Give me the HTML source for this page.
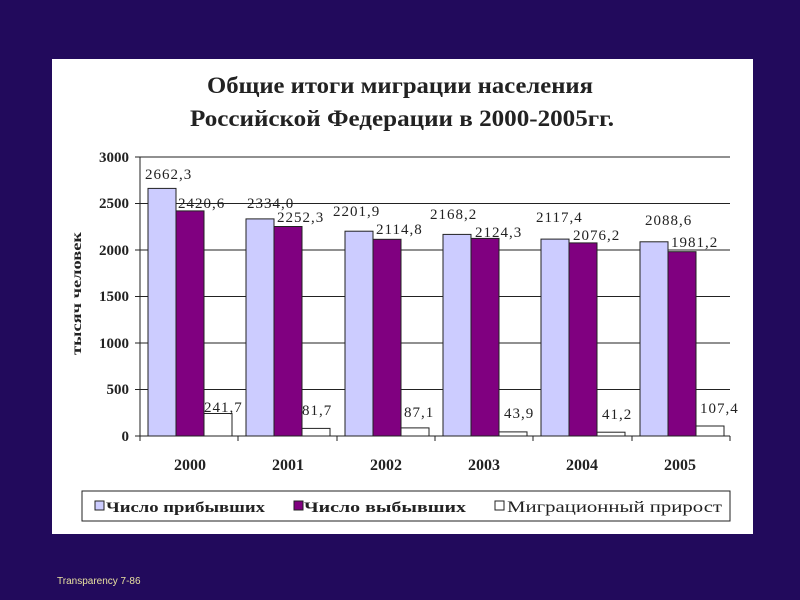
<!DOCTYPE html>
<html><head><meta charset="utf-8"><style>
html,body{margin:0;padding:0;background:#220a5c;}
svg{display:block;}
</style></head><body>
<svg width="800" height="600" xmlns="http://www.w3.org/2000/svg" font-family="Liberation Serif, serif">
<rect width="800" height="600" fill="#220a5c"/>
<rect x="52" y="59" width="701" height="475" fill="#fff"/>
<text x="207" y="93" textLength="386" lengthAdjust="spacingAndGlyphs" font-size="23" font-weight="bold" fill="#222">Общие итоги миграции населения</text>
<text x="190" y="126" textLength="424" lengthAdjust="spacingAndGlyphs" font-size="23" font-weight="bold" fill="#222">Российской Федерации в 2000-2005гг.</text>
<g stroke="#222" stroke-width="1">
<line x1="140" y1="157" x2="730" y2="157"/><line x1="140" y1="203.5" x2="730" y2="203.5"/>
<line x1="140" y1="250" x2="730" y2="250"/><line x1="140" y1="296.5" x2="730" y2="296.5"/>
<line x1="140" y1="343" x2="730" y2="343"/><line x1="140" y1="389.5" x2="730" y2="389.5"/>
<line x1="140" y1="157" x2="140" y2="436"/>
<line x1="135" y1="157" x2="140" y2="157"/><line x1="135" y1="203.5" x2="140" y2="203.5"/><line x1="135" y1="250" x2="140" y2="250"/><line x1="135" y1="296.5" x2="140" y2="296.5"/><line x1="135" y1="343" x2="140" y2="343"/><line x1="135" y1="389.5" x2="140" y2="389.5"/><line x1="135" y1="436" x2="140" y2="436"/>
</g>
<g font-size="15" font-weight="bold" fill="#222" text-anchor="end">
<text x="129" y="162">3000</text><text x="129" y="208">2500</text><text x="129" y="255">2000</text><text x="129" y="301">1500</text><text x="129" y="348">1000</text><text x="129" y="394">500</text><text x="129" y="441">0</text>
</g>
<text transform="translate(81,355) rotate(-90)" textLength="123" lengthAdjust="spacingAndGlyphs" font-size="14" font-weight="bold" fill="#222">тысяч человек</text>
<g stroke="#222" stroke-width="1">
<rect x="148" y="188.4" width="28" height="247.6" fill="#ccccff"/><rect x="176" y="210.9" width="28" height="225.1" fill="#800080"/><rect x="204" y="413.5" width="28" height="22.5" fill="#fff"/>
<rect x="246" y="218.9" width="28" height="217.1" fill="#ccccff"/><rect x="274" y="226.5" width="28" height="209.5" fill="#800080"/><rect x="302" y="428.4" width="28" height="7.6" fill="#fff"/>
<rect x="345" y="231.2" width="28" height="204.8" fill="#ccccff"/><rect x="373" y="239.3" width="28" height="196.7" fill="#800080"/><rect x="401" y="427.9" width="28" height="8.1" fill="#fff"/>
<rect x="443" y="234.4" width="28" height="201.6" fill="#ccccff"/><rect x="471" y="238.4" width="28" height="197.6" fill="#800080"/><rect x="499" y="431.9" width="28" height="4.1" fill="#fff"/>
<rect x="541" y="239.1" width="28" height="196.9" fill="#ccccff"/><rect x="569" y="242.9" width="28" height="193.1" fill="#800080"/><rect x="597" y="432.2" width="28" height="3.8" fill="#fff"/>
<rect x="640" y="241.8" width="28" height="194.2" fill="#ccccff"/><rect x="668" y="251.7" width="28" height="184.3" fill="#800080"/><rect x="696" y="426" width="28" height="10" fill="#fff"/>
<line x1="140" y1="436" x2="730" y2="436"/>
<line x1="140" y1="436" x2="140" y2="441"/><line x1="238" y1="436" x2="238" y2="441"/><line x1="337" y1="436" x2="337" y2="441"/><line x1="435" y1="436" x2="435" y2="441"/><line x1="533" y1="436" x2="533" y2="441"/><line x1="632" y1="436" x2="632" y2="441"/><line x1="730" y1="436" x2="730" y2="441"/>
</g>
<g font-size="15" fill="#222" letter-spacing="1">
<text x="145" y="179">2662,3</text><text x="178" y="208">2420,6</text><text x="204" y="412">241,7</text>
<text x="247" y="208">2334,0</text><text x="277" y="222">2252,3</text><text x="302" y="415">81,7</text>
<text x="333" y="216">2201,9</text><text x="376" y="234">2114,8</text><text x="404" y="417">87,1</text>
<text x="430" y="219">2168,2</text><text x="475" y="237">2124,3</text><text x="504" y="418">43,9</text>
<text x="536" y="222">2117,4</text><text x="573" y="240">2076,2</text><text x="602" y="419">41,2</text>
<text x="645" y="225">2088,6</text><text x="671" y="247">1981,2</text><text x="700" y="413">107,4</text>
</g>
<g font-size="16" font-weight="bold" fill="#222" text-anchor="middle">
<text x="190" y="470">2000</text><text x="288" y="470">2001</text><text x="386" y="470">2002</text><text x="484" y="470">2003</text><text x="582" y="470">2004</text><text x="680" y="470">2005</text>
</g>
<rect x="82" y="491" width="648" height="30" fill="#fff" stroke="#222"/>
<g stroke="#222"><rect x="95" y="501" width="9" height="9" fill="#ccccff"/><rect x="294" y="501" width="9" height="9" fill="#800080"/><rect x="495" y="501" width="9" height="9" fill="#fff"/></g>
<g font-size="15" font-weight="bold" fill="#222">
<text x="106" y="512" textLength="159" lengthAdjust="spacingAndGlyphs">Число прибывших</text>
<text x="304" y="512" textLength="162" lengthAdjust="spacingAndGlyphs">Число выбывших</text>
<text x="507" y="512" textLength="215" lengthAdjust="spacingAndGlyphs" font-weight="normal" font-size="16">Миграционный прирост</text>
</g>
<text x="57" y="584" font-family="Liberation Sans, sans-serif" font-size="10" fill="#e8e0a0">Transparency  7-86</text>
</svg>
</body></html>
